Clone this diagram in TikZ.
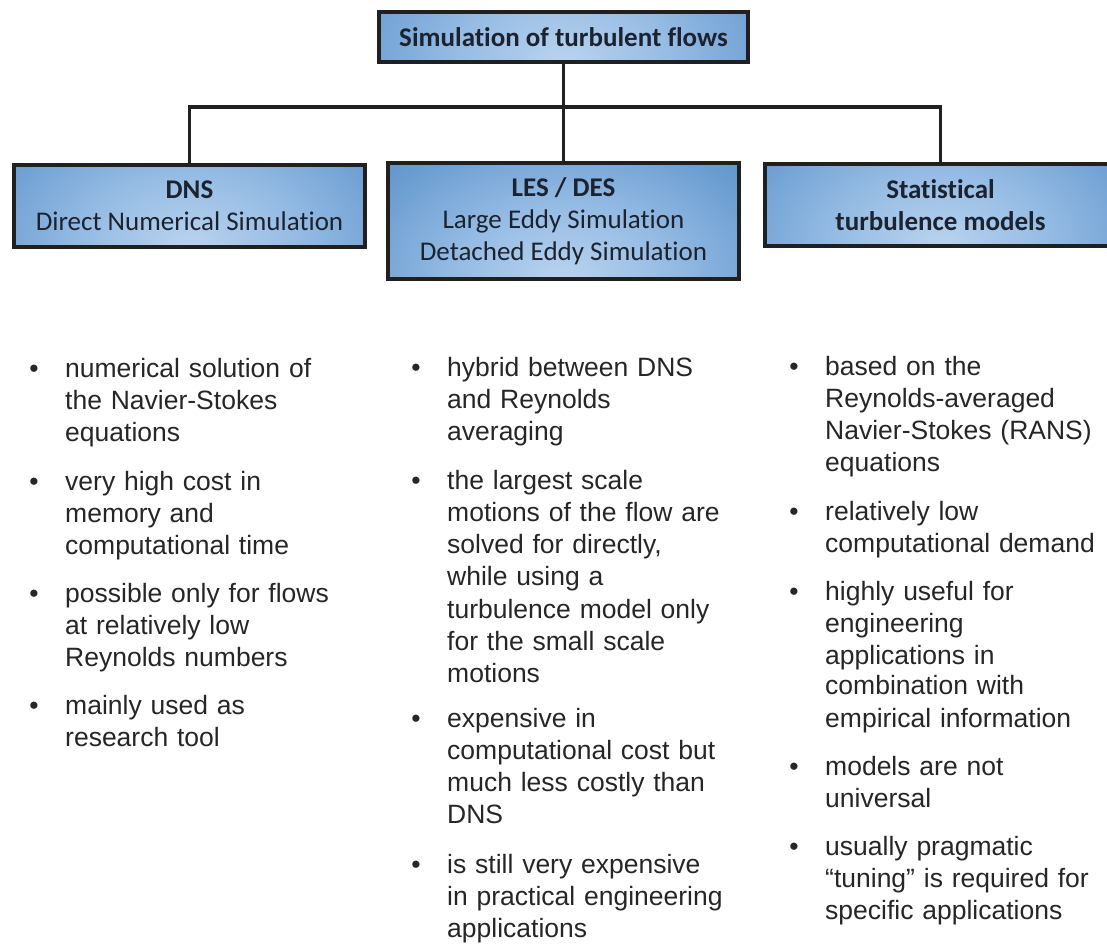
\documentclass[tikz,border=0pt]{standalone}
\usepackage{fontspec}
\newfontfamily\boxfont{Carlito}[Ligatures=NoCommon]
\newfontfamily\listfont{Liberation Sans}
\usetikzlibrary{calc}

\definecolor{boxtext}{HTML}{1C2330}
\definecolor{listtext}{HTML}{262626}
\definecolor{frame}{HTML}{202020}
\definecolor{glowA}{HTML}{B9D3EE}
\definecolor{glowB}{HTML}{96BCE4}
\definecolor{glowC}{HTML}{6C9ED2}
\definecolor{glowD}{HTML}{4A80B8}
\definecolor{glowE}{HTML}{33679B}
\definecolor{glowF}{HTML}{2C5D8F}

% bright spot near the bottom centre of each box, darker towards the sides
\pgfdeclareradialshading{boxglow}{\pgfpoint{0bp}{0bp}}{%
  color(0bp)=(glowA); color(12bp)=(glowB); color(24bp)=(glowC);
  color(36bp)=(glowD); color(46bp)=(glowE); color(50bp)=(glowF)}

\tikzset{
  panel/.style={draw=frame, line width=4.5pt, outer sep=0pt, inner sep=0pt,
    text=boxtext, align=center,
    font=\boxfont\fontsize{27}{32}\selectfont,
    path picture={\shade[shading=boxglow]
      ($(path picture bounding box.south)+(-220pt,-150pt)$) rectangle
      ($(path picture bounding box.south)+(220pt,150pt)$);}},
  wire/.style={draw=frame, line width=3.4pt, line join=miter},
  item/.style={anchor=north west, inner sep=0pt, text width=#1, align=left,
    text=listtext, font=\listfont\fontsize{26.5}{32.2}\selectfont},
  item/.default=300pt,
  bul/.style={anchor=base, inner sep=0pt, text=listtext,
    font=\listfont\fontsize{26.5}{32.2}\selectfont},
}

\begin{document}
\begin{tikzpicture}[x=1pt, y=-1pt]
\useasboundingbox (0,0) rectangle (1107,943);
\clip (0,0) rectangle (1107,943);

% hierarchy lines
\coordinate (bus) at (563.5,107);
\coordinate (topfoot) at (563.5,62);
\coordinate (dnshead) at (189.5,165);
\coordinate (leshead) at (563.5,163);
\coordinate (stathead) at (940.5,164);
\draw[wire] (topfoot) -- (bus);
\draw[wire] (dnshead) |- (bus) -| (stathead);
\draw[wire] (bus) -- (leshead);

% boxes
\node[panel, minimum width=369pt, minimum height=50pt] (top) at (563.5,37)
  {\textbf{Simulation of turbulent flows}};
\node[panel, minimum width=351pt, minimum height=82pt] (dns) at (189.5,206)
  {\textbf{DNS}\\Direct Numerical Simulation};
\node[panel, minimum width=351pt, minimum height=116pt] (les) at (563.5,221)
  {\textbf{LES / DES}\\Large Eddy Simulation\\Detached Eddy Simulation};
\node[panel, minimum width=351pt, minimum height=82pt] (stat) at (940.5,205)
  {\textbf{Statistical}\\\textbf{turbulence models}};

% DNS column
\node[item] (d1) at (65,354.5) {\strut numerical solution of\\the Navier-Stokes\\equations};
\node[item] (d2) at (65,467.5) {\strut very high cost in\\memory and\\computational time};
\node[item] (d3) at (65,579.5) {\strut possible only for flows\\at relatively low\\Reynolds numbers};
\node[item] (d4) at (65,691.5) {\strut mainly used as\\research tool};
\node[bul] (bd1) at (34,377) {•};
\node[bul] (bd2) at (34,490) {•};
\node[bul] (bd3) at (34,602) {•};
\node[bul] (bd4) at (34,714) {•};

% LES / DES column
\node[item] (m1) at (447,353.5) {\strut hybrid between DNS\\and Reynolds\\averaging};
\node[item] (m2) at (447,466.5) {\strut the largest scale\\motions of the flow are\\solved for directly,\\while using a\\turbulence model only\\for the small scale\\motions};
\node[item] (m3) at (447,704.5) {\strut expensive in\\computational cost but\\much less costly than\\DNS};
\node[item] (m4) at (447,850.5) {\strut is still very expensive\\in practical engineering\\applications};
\node[bul] (bm1) at (416,376) {•};
\node[bul] (bm2) at (416,489) {•};
\node[bul] (bm3) at (416,727) {•};
\node[bul] (bm4) at (416,873) {•};

% statistical models column
\node[item=280pt] (r1) at (825,352.5) {\strut based on the\\Reynolds-averaged\\Navier-Stokes (RANS)\\equations};
\node[item=280pt] (r2) at (825,497.5) {\strut relatively low\\computational demand};
\node[item=280pt] (r3) at (825,577.5) {\strut highly useful for\\engineering\\applications in\\[-2pt]combination with\\empirical information};
\node[item=280pt] (r4) at (825,752.5) {\strut models are not\\universal};
\node[item=280pt] (r5) at (825,832.5) {\strut usually pragmatic\\“tuning” is required for\\specific applications};
\node[bul] (br1) at (794,375) {•};
\node[bul] (br2) at (794,520) {•};
\node[bul] (br3) at (794,600) {•};
\node[bul] (br4) at (794,775) {•};
\node[bul] (br5) at (794,855) {•};
\end{tikzpicture}
\end{document}
